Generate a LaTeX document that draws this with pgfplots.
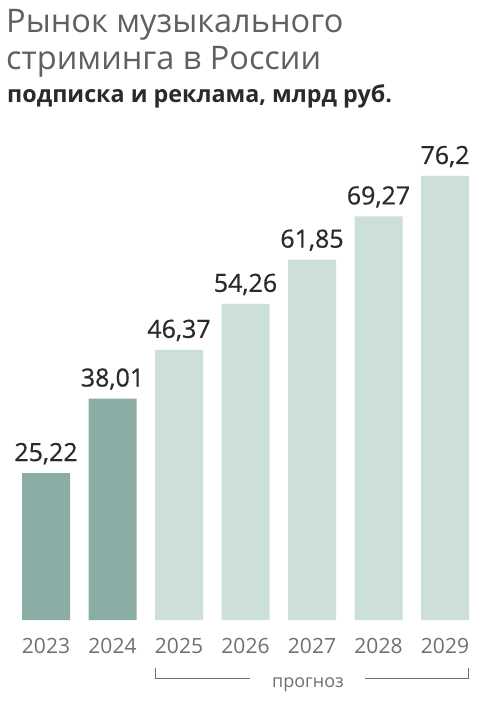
\documentclass[border=0pt]{standalone}
\usepackage{fontspec}
\setmainfont{Open Sans}
\newfontfamily\semib[FakeBold=0.6]{Open Sans}
\usepackage{pgfplots}
\pgfplotsset{compat=1.18}
\definecolor{darkbar}{HTML}{8AADA5}
\definecolor{lightbar}{HTML}{CCDFD9}
\definecolor{titlegray}{HTML}{606060}
\definecolor{numcol}{HTML}{2A2A2A}
\definecolor{yeargray}{HTML}{707070}
\begin{document}
\begin{tikzpicture}[x=1pt,y=1pt]
\useasboundingbox (0,0) rectangle (491,701);
\fill[white] (0,0) rectangle (491,701);
\node[anchor=base west,inner sep=0,text=titlegray,font=\fontsize{32.5}{37}\selectfont] at (6,668) {Рынок музыкального};
\node[anchor=base west,inner sep=0,text=titlegray,font=\fontsize{32.5}{37}\selectfont] at (6,631) {стриминга в России};
\node[anchor=base west,inner sep=0,text=numcol,font=\fontsize{23.3}{26}\selectfont\bfseries] at (7,598) {подписка и реклама, млрд руб.};
\begin{axis}[
  at={(12.75pt,81pt)}, anchor=south west,
  scale only axis, width=465.5pt, height=444pt,
  xmin=-0.5, xmax=6.5, ymin=0, ymax=76.2,
  axis line style={draw=none},
  ytick=\empty,
  xtick={0,1,2,3,4,5,6},
  xticklabels={2023,2024,2025,2026,2027,2028,2029},
  major tick length=0pt,
  xticklabel style={anchor=base, yshift=-33pt, text=yeargray, font=\fontsize{21}{24}\selectfont},
  clip=false,
  ybar, bar width=48pt, bar shift=0pt,
  point meta=explicit symbolic,
  nodes near coords,
  nodes near coords style={anchor=base, yshift=12pt, text=numcol, font=\fontsize{25}{28}\selectfont\semib},
]
\addplot[fill=darkbar, draw=none] coordinates {(0,25.22) [25,22] (1,38.01) [38,01]};
\addplot[fill=lightbar, draw=none] coordinates {(2,46.37) [46,37] (3,54.26) [54,26] (4,61.85) [61,85] (5,69.27) [69,27] (6,76.2) [76,2]};
\end{axis}
\draw[yeargray, line width=0.8pt] (155,33) -- (155,23) -- (250,23);
\draw[yeargray, line width=0.8pt] (365,23) -- (468,23) -- (468,33);
\node[anchor=base,inner sep=0,text=yeargray,font=\fontsize{18}{20}\selectfont] at (308,13) {прогноз};
\end{tikzpicture}
\end{document}
